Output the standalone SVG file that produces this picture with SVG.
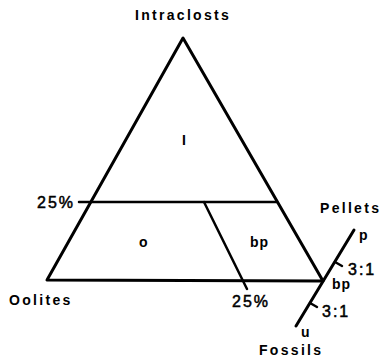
<svg xmlns="http://www.w3.org/2000/svg" width="380" height="360" viewBox="0 0 380 360">
<style>
.ln{fill:none;stroke:#000;stroke-width:3;stroke-linecap:round;stroke-linejoin:round}
.thin{fill:none;stroke:#000;stroke-width:2.5;stroke-linecap:round}
.lbl{font-family:"Liberation Sans",Arial,sans-serif;font-weight:bold;font-size:14px;letter-spacing:2.3px;fill:#000}
.sm{font-family:"Liberation Sans",Arial,sans-serif;font-weight:bold;font-size:14px;fill:#000}
.pc{font-family:"Liberation Sans",Arial,sans-serif;font-size:16px;letter-spacing:2px;fill:#000;stroke:#000;stroke-width:0.5}
</style>
<rect width="380" height="360" fill="#fff"/>
<g id="connectors">
<polygon class="ln" points="183,38 47,280 323,281"/>
<line class="thin" x1="91" y1="202" x2="277" y2="202"/>
<line class="thin" x1="79" y1="202" x2="91" y2="202"/>
<line class="thin" x1="204" y1="202" x2="247" y2="289"/>
<line class="ln" x1="354" y1="230" x2="296" y2="326"/>
<line class="thin" x1="335" y1="262" x2="342" y2="266"/>
<line class="thin" x1="310" y1="303" x2="317" y2="307"/>
</g>
<g id="intraclasts"><text class="lbl" x="135" y="20">Intraclosts</text></g>
<g id="oolites"><text class="lbl" x="9" y="305">Oolites</text></g>
<g id="pellets"><text class="lbl" x="320" y="213">Pellets</text></g>
<g id="fossils"><text class="lbl" x="259" y="355">Fossils</text></g>
<g id="region-i"><text class="sm" x="182" y="145">I</text></g>
<g id="region-o"><text class="sm" x="139" y="247">o</text></g>
<g id="region-bp"><text class="sm" x="250" y="247" letter-spacing="1">bp</text></g>
<g id="pct-left"><text class="pc" x="37" y="208">25%</text></g>
<g id="pct-bottom"><text class="pc" x="232" y="307">25%</text></g>
<g id="scale">
<text class="sm" x="359" y="240">p</text>
<text class="pc" x="348" y="275">3:1</text>
<text class="sm" x="332" y="289" letter-spacing="1">bp</text>
<text class="pc" x="322" y="317">3:1</text>
<text class="sm" x="301" y="337">u</text>
</g>
</svg>
